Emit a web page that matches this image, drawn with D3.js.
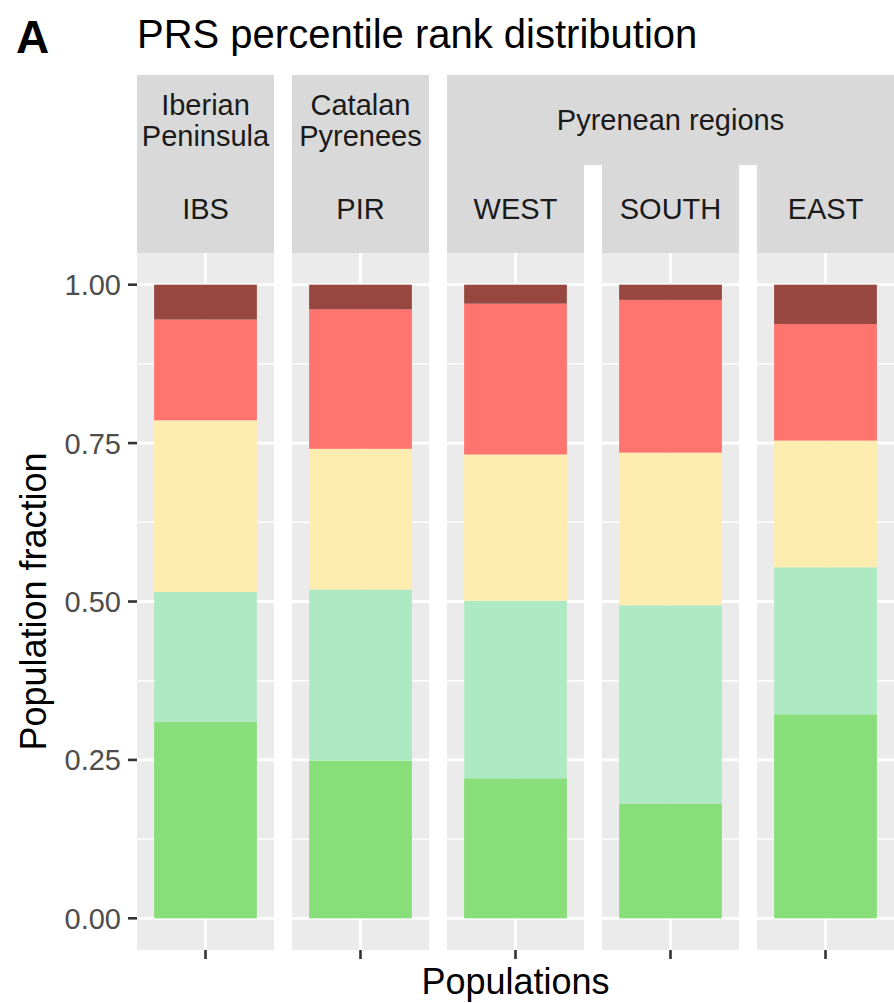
<!DOCTYPE html>
<html>
<head>
<meta charset="utf-8">
<script src="https://cdn.jsdelivr.net/npm/d3@7"></script>
<style>
  body { margin: 0; background: #fff; }
  svg text { font-family: "Liberation Sans", Arial, sans-serif; }
</style>
</head>
<body>
<script>
// populations (one facet each) and their outer grouping
var populations = ["IBS", "PIR", "WEST", "SOUTH", "EAST"];
var groupNames = [["Iberian", "Peninsula"], ["Catalan", "Pyrenees"], ["Pyrenean regions"]];
var groupMembers = [["IBS"], ["PIR"], ["WEST", "SOUTH", "EAST"]];

// percentile rank classes, bottom to top of the stack
var rankClasses = ["lowest", "low", "middle", "high", "highest"];
var rankColors = ["#88DF7A", "#ADE9C2", "#FEEDAE", "#FF746E", "#984640"];

// fraction of each population in each class (order = populations)
var lowest  = [0.310, 0.249, 0.221, 0.181, 0.322];
var low     = [0.205, 0.270, 0.280, 0.313, 0.232];
var middle  = [0.271, 0.222, 0.231, 0.241, 0.200];
var high    = [0.159, 0.220, 0.238, 0.241, 0.184];
var highest = [0.055, 0.039, 0.030, 0.024, 0.062];

var yTicks = [0, 0.25, 0.5, 0.75, 1];
var yMinor = [0.125, 0.375, 0.625, 0.875];

var W = 894, H = 1003;
var svg = d3.select("body").append("svg").attr("width", W).attr("height", H);

var table = populations.map(function(p, i) {
  return {pop: p, lowest: lowest[i], low: low[i], middle: middle[i], high: high[i], highest: highest[i]};
});
var series = d3.stack().keys(rankClasses)(table);

var panelTop = 253, panelBottom = 950;
var stripTop = 75, stripMid = 165;

var fx = d3.scaleBand().domain(populations).range([137, 894]).paddingInner(18 / 155);
var y = d3.scaleLinear().domain([-0.05, 1.05]).range([panelBottom, panelTop]);

// panels
populations.forEach(function(p) {
  var x0 = fx(p), w = fx.bandwidth();
  var g = svg.append("g").attr("transform", "translate(" + x0 + ",0)");
  g.append("rect").attr("x", 0).attr("y", panelTop).attr("width", w)
    .attr("height", panelBottom - panelTop).attr("fill", "#EBEBEB");
  g.selectAll("line.minor").data(yMinor).enter().append("line")
    .attr("x1", 0).attr("x2", w).attr("y1", y).attr("y2", y)
    .attr("stroke", "#fff").attr("stroke-width", 1.4);
  g.selectAll("line.major").data(yTicks).enter().append("line")
    .attr("x1", 0).attr("x2", w).attr("y1", y).attr("y2", y)
    .attr("stroke", "#fff").attr("stroke-width", 2.8);
  // ggplot-like: bar 0.9 of a unit, 0.6 expansion each side
  var barW = w * 0.9 / 1.2, cx = w / 2;
  g.append("line").attr("x1", cx).attr("x2", cx).attr("y1", panelTop).attr("y2", panelBottom)
    .attr("stroke", "#fff").attr("stroke-width", 2.8);
  series.forEach(function(s, k) {
    var d = s.find(function(e) { return e.data.pop === p; });
    g.append("rect")
      .attr("x", cx - barW / 2).attr("width", barW)
      .attr("y", y(d[1])).attr("height", y(d[0]) - y(d[1]))
      .attr("fill", rankColors[k]);
  });
  // x tick
  g.append("line").attr("x1", cx).attr("x2", cx).attr("y1", panelBottom).attr("y2", panelBottom + 9)
    .attr("stroke", "#333").attr("stroke-width", 2.6);
  // inner strip
  g.append("rect").attr("x", 0).attr("y", stripMid).attr("width", w)
    .attr("height", panelTop - stripMid).attr("fill", "#D9D9D9");
  g.append("text").attr("x", cx).attr("y", (stripMid + panelTop) / 2)
    .attr("dy", "0.36em").attr("text-anchor", "middle")
    .attr("font-size", 29).attr("fill", "#1A1A1A").text(p);
});

// outer strips
groupMembers.forEach(function(m, i) {
  var x0 = fx(m[0]), x1 = fx(m[m.length - 1]) + fx.bandwidth();
  svg.append("rect").attr("x", x0).attr("y", stripTop).attr("width", x1 - x0)
    .attr("height", stripMid - stripTop).attr("fill", "#D9D9D9");
  var lines = groupNames[i];
  var cy = (stripTop + stripMid) / 2, lh = 31;
  var t = svg.append("text").attr("text-anchor", "middle").attr("font-size", 29).attr("fill", "#1A1A1A");
  lines.forEach(function(l, j) {
    t.append("tspan").attr("x", (x0 + x1) / 2)
      .attr("y", cy + (j - (lines.length - 1) / 2) * lh)
      .attr("dy", "0.36em").text(l);
  });
});

// y axis
var ya = svg.append("g");
ya.selectAll("line").data(yTicks).enter().append("line")
  .attr("x1", 128).attr("x2", 137).attr("y1", y).attr("y2", y)
  .attr("stroke", "#333").attr("stroke-width", 2.6);
ya.selectAll("text").data(yTicks).enter().append("text")
  .attr("x", 121).attr("y", y).attr("dy", "0.36em").attr("text-anchor", "end")
  .attr("font-size", 29).attr("fill", "#4D4D4D").text(d3.format(".2f"));

// axis titles
svg.append("text").attr("transform", "translate(46," + ((panelTop + panelBottom) / 2) + ") rotate(-90)")
  .attr("text-anchor", "middle").attr("font-size", 36).attr("fill", "#000").text("Population fraction");
svg.append("text").attr("x", (137 + 894) / 2).attr("y", 994)
  .attr("text-anchor", "middle").attr("font-size", 36).attr("fill", "#000").text("Populations");

// titles
svg.append("text").attr("x", 16).attr("y", 53).attr("font-size", 46).attr("font-weight", "bold")
  .attr("fill", "#000").text("A");
svg.append("text").attr("x", 137).attr("y", 48).attr("font-size", 40).attr("fill", "#000")
  .text("PRS percentile rank distribution");
</script>
</body>
</html>
